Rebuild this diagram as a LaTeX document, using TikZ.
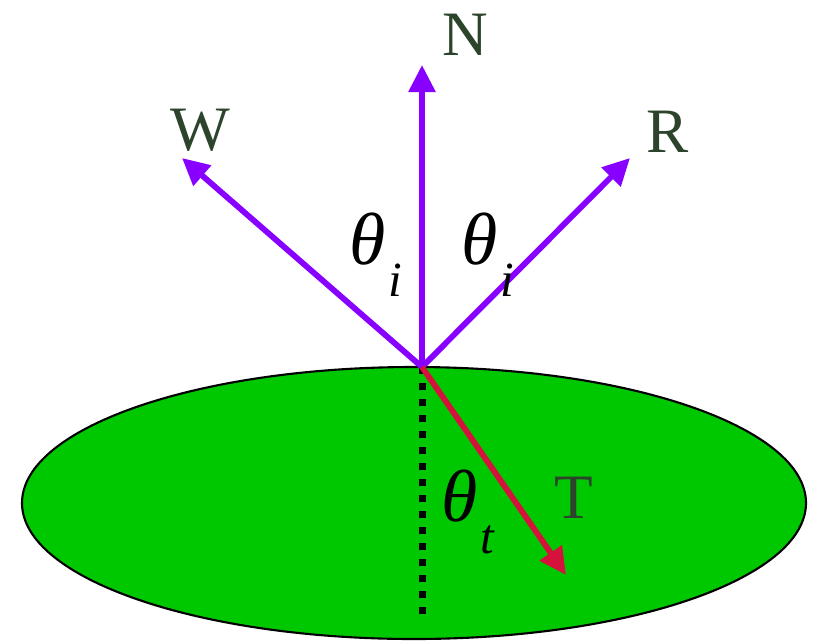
\documentclass[tikz,border=0pt]{standalone}
\usepackage{fontspec}
\setmainfont{Liberation Serif}
\usepackage{tikz}
\usetikzlibrary{arrows.meta}
\definecolor{rayviolet}{RGB}{136,0,255}
\definecolor{raycrimson}{RGB}{212,18,60}
\definecolor{surfgreen}{RGB}{0,200,0}
\definecolor{labgreen}{RGB}{44,68,44}
\newcommand{\angsub}[1]{\textit{θ}\kern0.04em\raisebox{-0.95ex}{\fontsize{14}{16}\selectfont\textit{#1}}}

\begin{document}
\begin{tikzpicture}[
    ray/.style={line width=0.058cm,-{Triangle[length=0.27cm,width=0.26cm]}},
    lab/.style={text=labgreen,font=\fontsize{18}{20}\selectfont},
    ang/.style={font=\fontsize{21}{24}\selectfont}]
        \useasboundingbox (0,0) rectangle (8.14,6.40);
        % surface
        \draw[fill=surfgreen,line width=0.6pt] (4.14,1.37) ellipse (3.92 and 1.36);
        \coordinate (o) at (4.22,2.73);
        \coordinate (nt) at (4.22,5.75);
        \coordinate (wt) at (1.82,4.82);
        \coordinate (rt) at (6.30,4.82);
        \coordinate (tt) at (5.66,0.65);
        \coordinate (nb) at (4.22,0.25);
        % normal below the surface
        \draw[line width=0.07cm,dash pattern=on 0.07cm off 0.09cm] (o)--(nb);
        % rays
        \draw[ray,rayviolet] (o)--(nt);
        \draw[ray,rayviolet] (o)--(wt);
        \draw[ray,rayviolet] (o)--(rt);
        \draw[ray,raycrimson] (o)--(tt);
        \node[lab] (n) at (4.65,6.05) {N};
        \node[lab] (w) at (2.00,5.10) {W};
        \node[lab] (r) at (6.68,5.08) {R};
        \node[lab] (t) at (5.74,1.42) {T};
        \node[ang] (ai) at (3.76,3.85) {\angsub{i}};
        \node[ang] (ar) at (4.88,3.85) {\angsub{i}};
        \node[ang] (at) at (4.68,1.28) {\angsub{t}};
\end{tikzpicture}
\end{document}
